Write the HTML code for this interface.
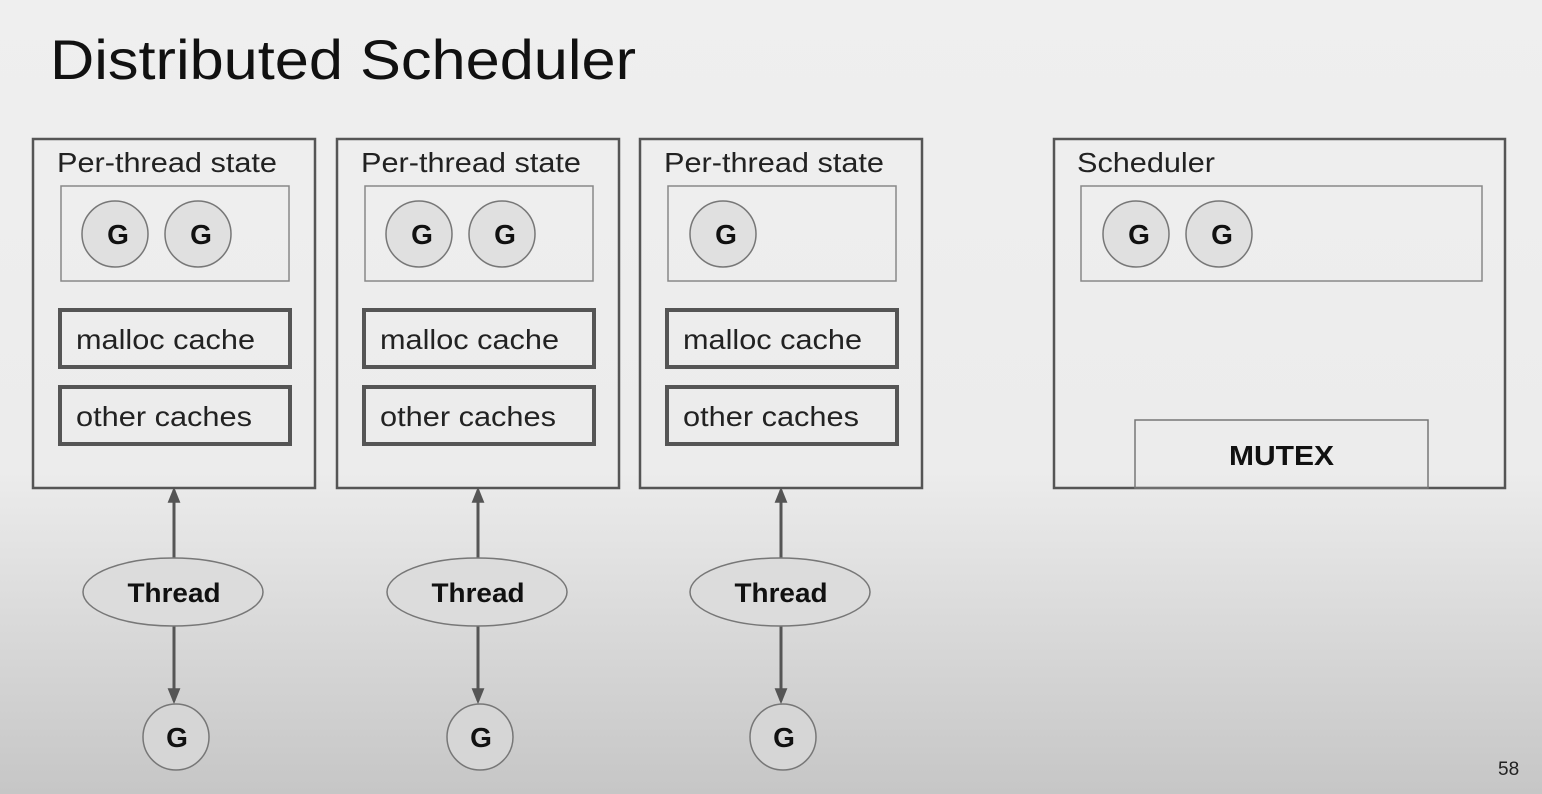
<!DOCTYPE html>
<html><head><style>
html,body{margin:0;padding:0;}
body{width:1542px;height:794px;overflow:hidden;background:linear-gradient(to bottom,#efefef 0px,#ececec 470px,#dadada 620px,#c6c6c6 794px);font-family:"Liberation Sans",sans-serif;}
</style></head><body>
<svg width="1542" height="794" xmlns="http://www.w3.org/2000/svg" style="position:absolute;left:0;top:0" font-family="Liberation Sans, sans-serif">
<defs>
<marker id="ah" markerWidth="16" markerHeight="20" refX="16" refY="8" orient="auto" markerUnits="userSpaceOnUse" viewBox="0 0 20 16">
<path d="M0,0 L20,8 L0,16 z" fill="#555"/></marker>
<g id="col">
<rect x="33" y="139" width="282" height="349" fill="none" stroke="#555" stroke-width="2.5"/>
<text x="57" y="172" font-size="28" fill="#222" textLength="220" lengthAdjust="spacingAndGlyphs">Per-thread state</text>
<rect x="61" y="186" width="228" height="95" fill="none" stroke="#888" stroke-width="1.5"/>
<rect x="60" y="310" width="230" height="57" fill="none" stroke="#555" stroke-width="4"/>
<text x="76" y="349" font-size="28" fill="#222" textLength="179" lengthAdjust="spacingAndGlyphs">malloc cache</text>
<rect x="60" y="387" width="230" height="57" fill="none" stroke="#555" stroke-width="4"/>
<text x="76" y="426" font-size="28" fill="#222" textLength="176" lengthAdjust="spacingAndGlyphs">other caches</text>
<line x1="174" y1="558" x2="174" y2="490" stroke="#555" stroke-width="3" marker-end="url(#ah)"/>
<line x1="174" y1="626" x2="174" y2="701" stroke="#555" stroke-width="3" marker-end="url(#ah)"/>
<ellipse cx="173" cy="592" rx="90" ry="34" fill="#dcdcdc" stroke="#777" stroke-width="1.5"/>
<text x="174" y="602" font-size="27" font-weight="bold" text-anchor="middle" fill="#111" textLength="93" lengthAdjust="spacingAndGlyphs">Thread</text>
<circle cx="176" cy="737" r="33" fill="#d6d6d6" stroke="#777" stroke-width="1.5"/>
<text x="177" y="747" font-size="28" font-weight="bold" text-anchor="middle" fill="#111">G</text>
</g>
<g id="g"><circle cx="0" cy="0" r="33" fill="#e0e0e0" stroke="#777" stroke-width="1.5"/><text x="3" y="10" font-size="28" font-weight="bold" text-anchor="middle" fill="#111">G</text></g>
</defs>
<text x="50" y="79" font-size="56" fill="#111" textLength="586" lengthAdjust="spacingAndGlyphs">Distributed Scheduler</text>
<use href="#col"/>
<use href="#col" x="304"/>
<use href="#col" x="607"/>
<use href="#g" x="115" y="234"/>
<use href="#g" x="198" y="234"/>
<use href="#g" x="419" y="234"/>
<use href="#g" x="502" y="234"/>
<use href="#g" x="723" y="234"/>
<rect x="1054" y="139" width="451" height="349" fill="none" stroke="#555" stroke-width="2.5"/>
<text x="1077" y="172" font-size="28" fill="#222" textLength="138" lengthAdjust="spacingAndGlyphs">Scheduler</text>
<rect x="1081" y="186" width="401" height="95" fill="none" stroke="#888" stroke-width="1.5"/>
<use href="#g" x="1136" y="234"/>
<use href="#g" x="1219" y="234"/>
<rect x="1135" y="420" width="293" height="68" fill="none" stroke="#777" stroke-width="1.5"/>
<text x="1229" y="465" font-size="28" font-weight="bold" fill="#111" textLength="105" lengthAdjust="spacingAndGlyphs">MUTEX</text>
<text x="1498" y="775" font-size="19" fill="#222">58</text>
</svg>
</body></html>
